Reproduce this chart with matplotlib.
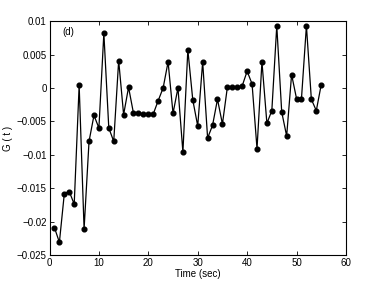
import matplotlib
matplotlib.use("Agg")
import matplotlib.pyplot as plt

plt.rcParams["font.family"] = ["Liberation Sans", "DejaVu Sans"]

# time in seconds and G(t) values
time_sec = list(range(1, 56))
g_values = [
    -0.0209, -0.0231, -0.0158, -0.0155, -0.0174, 0.0004, -0.0211, -0.0080, -0.0041, -0.0060,
    0.0082, -0.0060, -0.0080, 0.0041, -0.0040, 0.0001, -0.0038, -0.0038, -0.0039, -0.0039,
    -0.0039, -0.0019, 0.0000, 0.0039, -0.0038, 0.0000, -0.0096, 0.0057, -0.0018, -0.0057,
    0.0039, -0.0075, -0.0056, -0.0017, -0.0054, 0.0001, 0.0001, 0.0001, 0.0003, 0.0025,
    0.0006, -0.0091, 0.0039, -0.0053, -0.0034, 0.0093, -0.0036, -0.0072, 0.0020, -0.0016,
    -0.0016, 0.0093, -0.0017, -0.0034, 0.0005,
]
x_ticks = [0, 10, 20, 30, 40, 50, 60]
y_ticks = [-0.025, -0.02, -0.015, -0.01, -0.005, 0, 0.005, 0.01]
y_tick_labels = ["\u22120.025", "\u22120.02", "\u22120.015", "\u22120.01", "\u22120.005", "0", "0.005", "0.01"]

fig = plt.figure(figsize=(3.82, 2.87), dpi=100)
ax = fig.add_axes([0.1296, 0.1115, 0.776, 0.815])

ax.plot(time_sec, g_values, "-", color="black", linewidth=0.9,
        marker="o", markersize=3.4, markerfacecolor="black")

ax.set_xlim(0, 60)
ax.set_ylim(-0.025, 0.01)
ax.set_xticks(x_ticks)
ax.set_yticks(y_ticks)
ax.set_yticklabels(y_tick_labels)
ax.tick_params(direction="in", top=True, right=True, labelsize=7, length=3, width=0.6, pad=2)
for spine in ax.spines.values():
    spine.set_linewidth(0.8)

ax.set_xlabel("Time (sec)", fontsize=7, labelpad=1)
ax.set_ylabel("G ( t )", fontsize=7, labelpad=3)
ax.text(0.045, 0.975, "(d)", transform=ax.transAxes, fontsize=7, va="top", ha="left")

fig.savefig("out.png", dpi=100)
